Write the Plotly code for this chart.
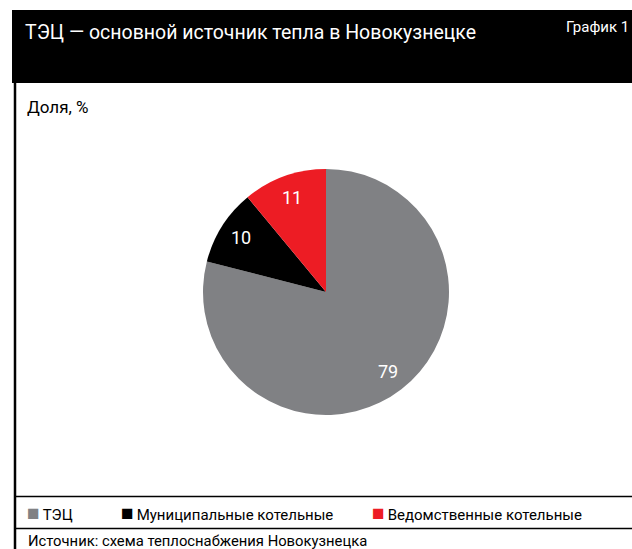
import math
import plotly.graph_objects as go

categories = ["ТЭЦ", "Муниципальные котельные", "Ведомственные котельные"]
shares = [79, 10, 11]
colors = ["#808184", "#000000", "#ED1C24"]

title_text = "ТЭЦ — основной источник тепла в Новокузнецке"
chart_no = "График 1"
unit_text = "Доля, %"
source_text = "Источник: схема теплоснабжения Новокузнецка"

W, H = 632, 549
FONT = "Roboto, sans-serif"

def px(x):
    return x / W

def py(y):
    return 1 - y / H

# pie geometry (pixels)
CX, CY, R = 326, 292, 123

fig = go.Figure()
fig.add_trace(go.Pie(
    labels=categories,
    values=shares,
    marker=dict(colors=colors, line=dict(width=0)),
    sort=False,
    direction="clockwise",
    rotation=0,
    textinfo="none",
    domain=dict(x=[px(CX - R), px(CX + R)], y=[py(CY + R), py(CY - R)]),
    hoverinfo="label+value",
    showlegend=False,
))

shapes = [
    dict(type="rect", xref="paper", yref="paper", x0=px(12), x1=1, y0=py(83), y1=py(10),
         fillcolor="black", line=dict(width=0), layer="below"),
    dict(type="line", xref="paper", yref="paper", x0=px(15), x1=px(15), y0=0, y1=py(83),
         line=dict(color="black", width=2.5)),
    dict(type="line", xref="paper", yref="paper", x0=px(15), x1=1, y0=py(496.5), y1=py(496.5),
         line=dict(color="black", width=1.5)),
    dict(type="line", xref="paper", yref="paper", x0=px(15), x1=1, y0=py(528.5), y1=py(528.5),
         line=dict(color="black", width=1.5)),
]

annotations = [
    dict(text=title_text, x=px(23), y=py(33), xref="paper", yref="paper",
         xanchor="left", yanchor="middle", showarrow=False,
         font=dict(color="white", size=19.5, family=FONT)),
    dict(text=chart_no, x=px(631), y=py(27), xref="paper", yref="paper",
         xanchor="right", yanchor="middle", showarrow=False,
         font=dict(color="white", size=15, family=FONT)),
    dict(text=unit_text, x=px(25), y=py(107), xref="paper", yref="paper",
         xanchor="left", yanchor="middle", showarrow=False,
         font=dict(color="black", size=17, family=FONT)),
    dict(text=source_text, x=px(26), y=py(541), xref="paper", yref="paper",
         xanchor="left", yanchor="middle", showarrow=False,
         font=dict(color="black", size=14.8, family=FONT)),
]

# value labels placed along each slice's mid-angle (clockwise from 12 o'clock)
total = sum(shares)
cum = 0
for v in shares:
    mid = (cum + v / 2) / total * 2 * math.pi
    cum += v
    lx = CX + 0.82 * R * math.sin(mid)
    ly = CY - 0.82 * R * math.cos(mid)
    annotations.append(dict(text=str(v), x=px(lx), y=py(ly), xref="paper", yref="paper",
                            xanchor="center", yanchor="middle", showarrow=False,
                            font=dict(color="white", size=18, family=FONT)))

# legend row
legend_x = [25, 119, 370]
for name, col, lx in zip(categories, colors, legend_x):
    annotations.append(dict(
        text=f"<span style='color:{col};font-size:21px'>■</span><span style='font-size:12px'> </span>{name}",
        x=px(lx), y=py(513), xref="paper", yref="paper",
        xanchor="left", yanchor="middle", showarrow=False,
        font=dict(color="black", size=15, family=FONT)))

fig.update_layout(
    width=W, height=H,
    margin=dict(l=0, r=0, t=0, b=0),
    paper_bgcolor="white",
    plot_bgcolor="white",
    font=dict(family=FONT, color="black"),
    shapes=shapes,
    annotations=annotations,
    showlegend=False,
)

fig.write_html("out.html")
